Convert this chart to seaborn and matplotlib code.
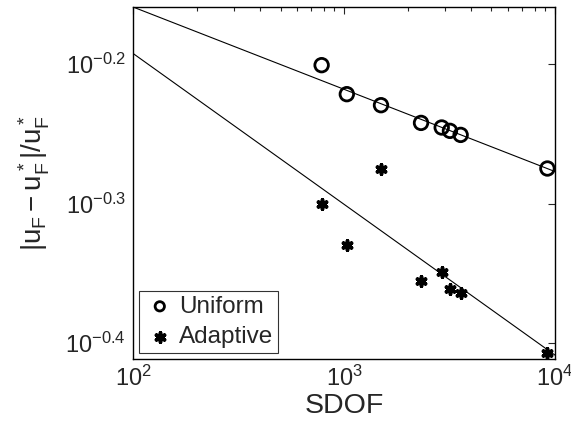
import numpy as np
import pandas as pd
import matplotlib
matplotlib.use('Agg')
import matplotlib.pyplot as plt
import seaborn as sns
from matplotlib.ticker import FixedLocator, FixedFormatter, LogLocator, NullFormatter, NullLocator

# data (log10 of the error values)
sdof = [783, 1031, 1497, 2317, 2904, 3177, 3570, 9204]
uniform_log = [-0.2007, -0.2215, -0.2294, -0.2421, -0.2454, -0.2478, -0.2507, -0.2748]
adaptive_log = [-0.2999, -0.3297, -0.2753, -0.3556, -0.3493, -0.3611, -0.3642, -0.4074]

# fitted lines (end points at SDOF = 1e2 and 1e4)
fit_x = [1e2, 1e4]
uniform_fit_log = [-0.159, -0.277]
adaptive_fit_log = [-0.1923, -0.4086]

pts = pd.DataFrame({
    'SDOF': sdof * 2,
    'err': [10 ** v for v in uniform_log + adaptive_log],
    'method': ['Uniform'] * len(sdof) + ['Adaptive'] * len(sdof),
})
fits = pd.DataFrame({
    'SDOF': fit_x * 2,
    'err': [10 ** v for v in uniform_fit_log + adaptive_fit_log],
    'method': ['Uniform', 'Uniform', 'Adaptive', 'Adaptive'],
})

sns.set_style('white')
plt.rcParams['font.family'] = ['Liberation Sans', 'DejaVu Sans']
plt.rcParams['mathtext.fontset'] = 'custom'
plt.rcParams['mathtext.rm'] = 'Liberation Sans'
plt.rcParams['mathtext.it'] = 'Liberation Sans'

fig = plt.figure(figsize=(5.71, 4.38), dpi=100)
ax = fig.add_axes([0.233, 0.180, 0.739, 0.804])

sns.lineplot(data=fits, x='SDOF', y='err', units='method', estimator=None,
             color='black', lw=0.8, ax=ax, legend=False)

u = pts[pts['method'] == 'Uniform']
a = pts[pts['method'] == 'Adaptive']
sns.scatterplot(data=u, x='SDOF', y='err', marker='o', s=95, facecolor='none',
                edgecolor='black', linewidth=2, ax=ax, label='Uniform')
sns.scatterplot(data=a, x='SDOF', y='err', marker=(6, 2, 0), s=45,
                color='black', linewidth=2.6, ax=ax, label='Adaptive')

ax.set_xscale('log')
ax.set_yscale('log')
ax.set_xlim(1e2, 1e4)
ax.set_ylim(10 ** -0.4115, 10 ** -0.159)

ax.xaxis.set_major_locator(FixedLocator([1e2, 1e3, 1e4]))
ax.xaxis.set_major_formatter(FixedFormatter([r'$10^2$', r'$10^3$', r'$10^4$']))
ax.xaxis.set_minor_locator(LogLocator(base=10, subs=np.arange(2, 10)))
ax.xaxis.set_minor_formatter(NullFormatter())
ax.yaxis.set_major_locator(FixedLocator([10 ** -0.4, 10 ** -0.3, 10 ** -0.2]))
ax.yaxis.set_major_formatter(FixedFormatter([r'$10^{-0.4}$', r'$10^{-0.3}$', r'$10^{-0.2}$']))
ax.yaxis.set_minor_locator(NullLocator())

ax.tick_params(which='both', direction='in', top=True, right=True, labelsize=17, width=0.8)
ax.tick_params(which='major', length=5, pad=5)
ax.tick_params(which='minor', length=3)
for sp in ax.spines.values():
    sp.set_color('black')
    sp.set_linewidth(1.0)

ax.set_xlabel('SDOF', fontsize=20.5, labelpad=1)
ax.set_ylabel(r'$|u_F - u_F^*|/u_F^*$', fontsize=20, labelpad=10)

leg = ax.legend(loc='lower left', fontsize=17.5, frameon=True, fancybox=False,
                edgecolor='black', handletextpad=0.15, borderpad=0.2,
                labelspacing=0.35, borderaxespad=0.25, handlelength=1.3)
leg.get_frame().set_linewidth(0.8)
for h in leg.legend_handles:
    h.set_sizes([45])

fig.savefig('out.png', dpi=100)
